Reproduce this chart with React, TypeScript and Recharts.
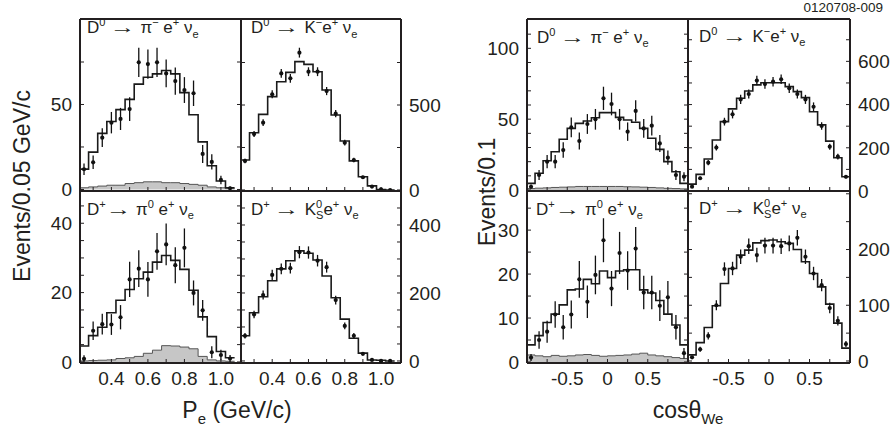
import React from 'react';
import { Area, ComposedChart, ErrorBar, Line, Scatter, XAxis, YAxis } from 'recharts';

// bin centres
const peBins = [0.25, 0.3, 0.35, 0.4, 0.45, 0.5, 0.55, 0.6, 0.65, 0.7, 0.75, 0.8, 0.85, 0.9, 0.95, 1.0, 1.05];
const cosBins = [-0.95, -0.85, -0.75, -0.65, -0.55, -0.45, -0.35, -0.25, -0.15, -0.05,
  0.05, 0.15, 0.25, 0.35, 0.45, 0.55, 0.65, 0.75, 0.85, 0.95];

const peTicks = [0.3, 0.4, 0.5, 0.6, 0.7, 0.8, 0.9, 1.0];
const peLabels = [0.4, 0.6, 0.8, 1.0];
const cosTicks = [-0.75, -0.5, -0.25, 0, 0.25, 0.5, 0.75];
const cosLabels = [-0.5, 0, 0.5];

// D0 -> pi- e+ nu, P_e
const piPeData = [11.9, 16, 30.5, 39.3, 41.5, 47.3, 74.8, 73.8, 74.8, 68.3, 63.8, 58.5, 56.6, 20.9, 16.2, 5.6, 0.7];
const piPeErr = [3.4, 4, 5.5, 6.3, 6.5, 7, 8.6, 8.6, 8.6, 8.2, 8, 7.6, 7.5, 5.3, 4.5, 2.5, 1];
const piPeMC = [12, 22, 33, 40, 47, 53, 62, 66, 68, 70, 68, 57, 44, 28, 14, 5, 1];
const piPeBkg = [1, 1.5, 2, 2.5, 2.5, 3.5, 4, 4.5, 4.5, 4, 4, 3.5, 3, 2.5, 1.5, 1, 0.5];

// D0 -> K- e+ nu, P_e
const kPeData = [171, 329, 396, 563, 686, 657, 808, 696, 696, 582, 449, 278, 176, 75, 20, 3, 0];
const kPeErr = [13, 18, 20, 24, 26, 26, 29, 26, 26, 24, 21, 17, 13, 9, 5, 2, 0];
const kPeMC = [176, 337, 445, 549, 637, 692, 755, 739, 696, 588, 441, 288, 171, 78, 24, 3, 0];

// D+ -> pi0 e+ nu, P_e
const pi0PeData = [0.9, 9, 10.9, 10.8, 12.9, 23.8, 26.9, 23.8, 31.9, 33.9, 27.9, 32.9, 19.9, 14.9, 2.8, 2, 1];
const pi0PeErr = [1, 2.7, 3, 3, 3.5, 5.1, 5.3, 5, 5.3, 6, 5.2, 5.6, 3.6, 3, 1.7, 1.5, 1];
const pi0PeMC = [4.6, 7.6, 10, 14.2, 17.8, 20.9, 24, 25.9, 28.8, 30.7, 29.3, 26.7, 20.7, 13, 7.3, 3, 1.2];
const pi0PeBkg = [0.3, 0.4, 0.5, 0.6, 1.0, 1.2, 1.6, 2.5, 3.4, 4.7, 4.6, 4.3, 3.8, 1.6, 0.6, 0.3, 0.2];

// D+ -> K0S e+ nu, P_e
const ksPeData = [74, 137, 194, 253, 271, 273, 320, 319, 295, 276, 179, 103, 74, 21, 3, 0, 0];
const ksPeErr = [8, 11, 13, 15, 16, 16, 18, 18, 17, 16, 13, 10, 8, 4, 2, 0, 0];
const ksPeMC = [74, 142, 189, 236, 271, 295, 324, 317, 297, 250, 186, 123, 67, 23, 3, 2, 0];

// D0 -> pi- e+ nu, cos theta_We
const piCosData = [2.3, 10.6, 20, 20, 28.2, 44.2, 34.6, 46.6, 49.9, 64.7, 60.7, 49.9, 41.2, 55.8, 43.5, 45.4, 32.9, 22.8, 10.6, 9.4];
const piCosErr = [1.5, 3.5, 4.7, 4.7, 5.5, 7, 6, 7, 7.3, 8.2, 8, 7.3, 6.5, 7.5, 6.7, 7, 6, 5, 3.5, 3.2];
const piCosMC = [4.7, 11.8, 20.7, 27, 35.8, 43.5, 47, 48.7, 51, 54.6, 54.6, 51.3, 49.4, 47.8, 43.5, 36.5, 28.7, 20, 12.9, 4.7];
const piCosBkg = [1, 1.3, 1.5, 1.8, 2, 2.2, 2.5, 2.5, 2.5, 2.5, 2.5, 2.5, 2.3, 2.2, 2, 1.8, 1.5, 1.2, 1, 0.8];

// D0 -> K- e+ nu, cos theta_We
const kCosData = [20, 59, 131, 201, 321, 355, 424, 449, 511, 495, 506, 517, 475, 449, 424, 390, 301, 205, 159, 66];
const kCosErr = [5, 8, 12, 14, 18, 19, 21, 21, 22, 22, 22, 22, 22, 21, 21, 20, 17, 14, 13, 8];
const kCosMC = [32, 77, 148, 236, 321, 380, 429, 463, 491, 501, 501, 501, 483, 460, 432, 367, 306, 231, 154, 66];

// D+ -> pi0 e+ nu, cos theta_We
const pi0CosData = [1, 5, 6.9, 10.8, 7.9, 10.8, 18.8, 13.7, 19.8, 27.7, 16.7, 24.8, 20.8, 25.8, 15.8, 15.8, 12.8, 14.7, 7.9, 2];
const pi0CosErr = [0.8, 2, 2.5, 3, 2.8, 3.2, 4.2, 3.7, 4.4, 5, 4, 4.8, 4.4, 4.9, 3.8, 3.8, 3.5, 3.7, 2.8, 1.2];
const pi0CosMC = [3.9, 6, 9, 10.9, 13, 16.4, 16.6, 18.8, 17.8, 20.7, 19.2, 20.7, 21, 21, 16.4, 15.7, 14, 10.9, 8.4, 3.9];
const pi0CosBkg = [1.6, 1.4, 1.2, 1.5, 1.3, 1.4, 1.6, 1.7, 1.5, 1.3, 1.4, 1.5, 1.6, 1.8, 2.0, 1.6, 1.4, 1.2, 1.0, 0.8];

// D+ -> K0S e+ nu, cos theta_We
const ksCosData = [6.6, 21, 45, 100, 165, 166, 187, 206, 190, 207, 207, 206, 211, 221, 187, 157, 136, 95, 72, 30.5];
const ksCosErr = [2.5, 4.5, 6.5, 9, 12, 12, 13, 14, 13, 14, 14, 14, 14, 14, 13, 12, 11, 9.5, 8.5, 5.5];
const ksCosMC = [11, 33, 60, 99, 139, 166, 190, 199, 212, 216, 217, 214, 211, 200, 178, 157, 133, 102, 68, 23];

const FONT = "'Liberation Sans', Arial, Helvetica, sans-serif";
const INK = '#231f20';
const GUT = 50;
const XH = 34;

const has = (list: number[], v: number) => list.some((l) => Math.abs(l - v) < 1e-9);

interface PanelProps {
  left: number;
  top: number;
  width: number;
  height: number;
  bins: number[];
  binWidth: number;
  xDomain: [number, number];
  xTicks: number[];
  xLabels: number[];
  xFmt: (v: number) => string;
  yDomain: [number, number];
  yTicks: number[];
  yLabels: number[];
  side: 'left' | 'right';
  data: number[];
  err: number[];
  mc: number[];
  bkg?: number[];
}

const Dot = (props: any) => <circle cx={props.cx} cy={props.cy} r={2.1} fill="#111" />;

function toSteps(bins: number[], vals: number[], w: number) {
  const rows = bins.map((x, i) => ({ x: x - w / 2, y: vals[i] }));
  rows.push({ x: bins[bins.length - 1] + w / 2, y: vals[vals.length - 1] });
  return rows;
}

function Panel(p: PanelProps) {
  const pts = p.bins.map((x, i) => ({ x, y: p.data[i], e: p.err[i] }));
  const steps = toSteps(p.bins, p.mc, p.binWidth);
  const bkg = p.bkg ? toSteps(p.bins, p.bkg, p.binWidth) : null;
  const axisLine = { stroke: INK, strokeWidth: 2 };
  const tickStyle = { fontSize: 19, fill: INK };
  const yFmt = (show: boolean) => (v: number) => (show && has(p.yLabels, v) ? String(v) : '');
  return (
    <div style={{ position: 'absolute', left: p.left - GUT, top: p.top - 1 }}>
      <ComposedChart
        width={p.width + 2 * GUT}
        height={p.height + 1 + XH}
        margin={{ top: 0, right: 0, bottom: 0, left: 0 }}
      >
        <XAxis
          dataKey="x" type="number" domain={p.xDomain} allowDataOverflow
          ticks={p.xTicks} interval={0} height={XH}
          tickSize={-4} tickMargin={13}
          tickFormatter={(v: number) => (has(p.xLabels, v) ? p.xFmt(v) : '')}
          tick={tickStyle} tickLine={{ stroke: INK }} axisLine={axisLine}
        />
        <XAxis
          xAxisId="top" orientation="top" dataKey="x" type="number" domain={p.xDomain}
          allowDataOverflow height={1} tick={false} tickLine={false} axisLine={axisLine}
        />
        <YAxis
          type="number" domain={p.yDomain} allowDataOverflow ticks={p.yTicks} interval={0}
          width={GUT} tickSize={-4} tickMargin={12} tickFormatter={yFmt(p.side === 'left')}
          tick={tickStyle} tickLine={{ stroke: INK }} axisLine={axisLine}
        />
        <YAxis
          yAxisId="r" orientation="right" type="number" domain={p.yDomain} allowDataOverflow
          ticks={p.yTicks} interval={0} width={GUT} tickSize={-4} tickMargin={12}
          tickFormatter={yFmt(p.side === 'right')}
          tick={tickStyle} tickLine={{ stroke: INK }} axisLine={axisLine}
        />
        {bkg && (
          <Area
            data={bkg} dataKey="y" type="stepAfter" fill="#c6c6c6" fillOpacity={1}
            stroke="#555" strokeWidth={1} dot={false} activeDot={false} isAnimationActive={false}
          />
        )}
        <Line
          data={steps} dataKey="y" type="stepAfter" stroke="#1a1a1a" strokeWidth={1.6}
          dot={false} activeDot={false} isAnimationActive={false}
        />
        <Scatter data={pts} dataKey="y" shape={Dot} isAnimationActive={false}>
          <ErrorBar dataKey="e" direction="y" width={0} stroke="#111" strokeWidth={1.3} />
        </Scatter>
      </ComposedChart>
    </div>
  );
}

const sup: React.CSSProperties = { fontSize: '0.65em', position: 'relative', top: '-0.6em' };
const sub: React.CSSProperties = { fontSize: '0.65em', position: 'relative', top: '0.4em' };

function Title({ x, y, children }: { x: number; y: number; children: React.ReactNode }) {
  return (
    <div style={{ position: 'absolute', left: x, top: y - 14.4, fontSize: 17, lineHeight: 1, whiteSpace: 'nowrap', color: INK }}>
      {children}
    </div>
  );
}

// long arrow: the glyph is stretched inside a box that already has the stretched width
const Arrow = () => (
  <span style={{ display: 'inline-block', width: '1.5em' }}>
    <span style={{ display: 'inline-block', transformOrigin: '0 50%', transform: 'scaleX(1.5)' }}>→</span>
  </span>
);
const KS = () => (
  <>K<span style={sup}>0</span><span style={{ ...sub, marginLeft: '-0.56em' }}>S</span></>
);

const peFmt = (v: number) => v.toFixed(1);
const cosFmt = (v: number) => (v === 0 ? '0' : String(v));

export default function App() {
  const pe = { bins: peBins, binWidth: 0.05, xDomain: [0.228, 1.11] as [number, number], xTicks: peTicks, xLabels: peLabels, xFmt: peFmt };
  const cs = { bins: cosBins, binWidth: 0.1, xDomain: [-1, 1] as [number, number], xTicks: cosTicks, xLabels: cosLabels, xFmt: cosFmt };
  const none: number[] = [];
  return (
    <div style={{ position: 'absolute', left: 0, top: 0, width: 893, height: 438, background: '#fff', fontFamily: FONT, color: INK, overflow: 'hidden' }}>
      <Panel {...pe} xLabels={none} left={80} top={19} width={161} height={172}
        yDomain={[-0.9, 100.3]} yTicks={[0, 25, 50, 75]} yLabels={[0, 50]} side="left"
        data={piPeData} err={piPeErr} mc={piPeMC} bkg={piPeBkg} />
      <Panel {...pe} xLabels={none} left={241} top={19} width={160} height={172}
        yDomain={[-6, 1006]} yTicks={[0, 250, 500, 750]} yLabels={[0, 500]} side="right"
        data={kPeData} err={kPeErr} mc={kPeMC} />
      <Panel {...pe} left={80} top={191} width={161} height={172}
        yDomain={[-0.3, 49.3]} yTicks={[0, 5, 10, 15, 20, 25, 30, 35, 40, 45]} yLabels={[0, 20, 40]} side="left"
        data={pi0PeData} err={pi0PeErr} mc={pi0PeMC} bkg={pi0PeBkg} />
      <Panel {...pe} left={241} top={191} width={160} height={172}
        yDomain={[-6, 500]} yTicks={[0, 50, 100, 150, 200, 250, 300, 350, 400, 450]} yLabels={[0, 200, 400]} side="right"
        data={ksPeData} err={ksPeErr} mc={ksPeMC} />

      <Panel {...cs} xLabels={none} left={527} top={19} width={161} height={172}
        yDomain={[-0.7, 120.7]} yTicks={[0, 10, 20, 30, 40, 50, 60, 70, 80, 90, 100, 110]} yLabels={[0, 50, 100]} side="left"
        data={piCosData} err={piCosErr} mc={piCosMC} bkg={piCosBkg} />
      <Panel {...cs} xLabels={none} left={688} top={19} width={162} height={172}
        yDomain={[0, 796]} yTicks={[0, 100, 200, 300, 400, 500, 600, 700]} yLabels={[0, 200, 400, 600]} side="right"
        data={kCosData} err={kCosErr} mc={kCosMC} />
      <Panel {...cs} left={527} top={191} width={161} height={172}
        yDomain={[-0.23, 38.9]} yTicks={[0, 5, 10, 15, 20, 25, 30, 35]} yLabels={[0, 10, 20, 30]} side="left"
        data={pi0CosData} err={pi0CosErr} mc={pi0CosMC} bkg={pi0CosBkg} />
      <Panel {...cs} left={688} top={191} width={162} height={172}
        yDomain={[-3.6, 305]} yTicks={[0, 50, 100, 150, 200, 250, 300]} yLabels={[0, 100, 200]} side="right"
        data={ksCosData} err={ksCosErr} mc={ksCosMC} />

      <Title x={87} y={33.5}>D<span style={sup}>0</span> <Arrow /> π<span style={sup}>−</span> e<span style={sup}>+</span> ν<span style={sub}>e</span></Title>
      <Title x={251} y={33.5}>D<span style={sup}>0</span> <Arrow /> K<span style={sup}>−</span>e<span style={sup}>+</span> ν<span style={sub}>e</span></Title>
      <Title x={87} y={215}>D<span style={sup}>+</span><Arrow /> π<span style={sup}>0</span> e<span style={sup}>+</span> ν<span style={sub}>e</span></Title>
      <Title x={251} y={215}>D<span style={sup}>+</span> <Arrow /> <KS />e<span style={sup}>+</span> ν<span style={sub}>e</span></Title>
      <Title x={537} y={43}>D<span style={sup}>0</span> <Arrow /> π<span style={sup}>−</span> e<span style={sup}>+</span> ν<span style={sub}>e</span></Title>
      <Title x={699} y={42}>D<span style={sup}>0</span> <Arrow /> K<span style={sup}>−</span>e<span style={sup}>+</span> ν<span style={sub}>e</span></Title>
      <Title x={536} y={215}>D<span style={sup}>+</span><Arrow /> π<span style={sup}>0</span> e<span style={sup}>+</span> ν<span style={sub}>e</span></Title>
      <Title x={699} y={214}>D<span style={sup}>+</span> <Arrow /> <KS />e<span style={sup}>+</span> ν<span style={sub}>e</span></Title>

      <div style={{ position: 'absolute', left: 22, top: 186, transform: 'translate(-50%, -50%) rotate(-90deg)', fontSize: 23, whiteSpace: 'nowrap' }}>
        Events/0.05 GeV/c
      </div>
      <div style={{ position: 'absolute', left: 487, top: 192, transform: 'translate(-50%, -50%) rotate(-90deg)', fontSize: 23, whiteSpace: 'nowrap' }}>
        Events/0.1
      </div>
      <div style={{ position: 'absolute', left: 237, top: 410, transform: 'translate(-50%, -50%)', fontSize: 23, whiteSpace: 'nowrap' }}>
        P<span style={sub}>e</span> (GeV/c)
      </div>
      <div style={{ position: 'absolute', left: 688, top: 410, transform: 'translate(-50%, -50%)', fontSize: 23, whiteSpace: 'nowrap' }}>
        cosθ<span style={sub}>We</span>
      </div>
      <div style={{ position: 'absolute', right: 10, top: 0, fontSize: 13.5, whiteSpace: 'nowrap' }}>
        0120708-009
      </div>
    </div>
  );
}
